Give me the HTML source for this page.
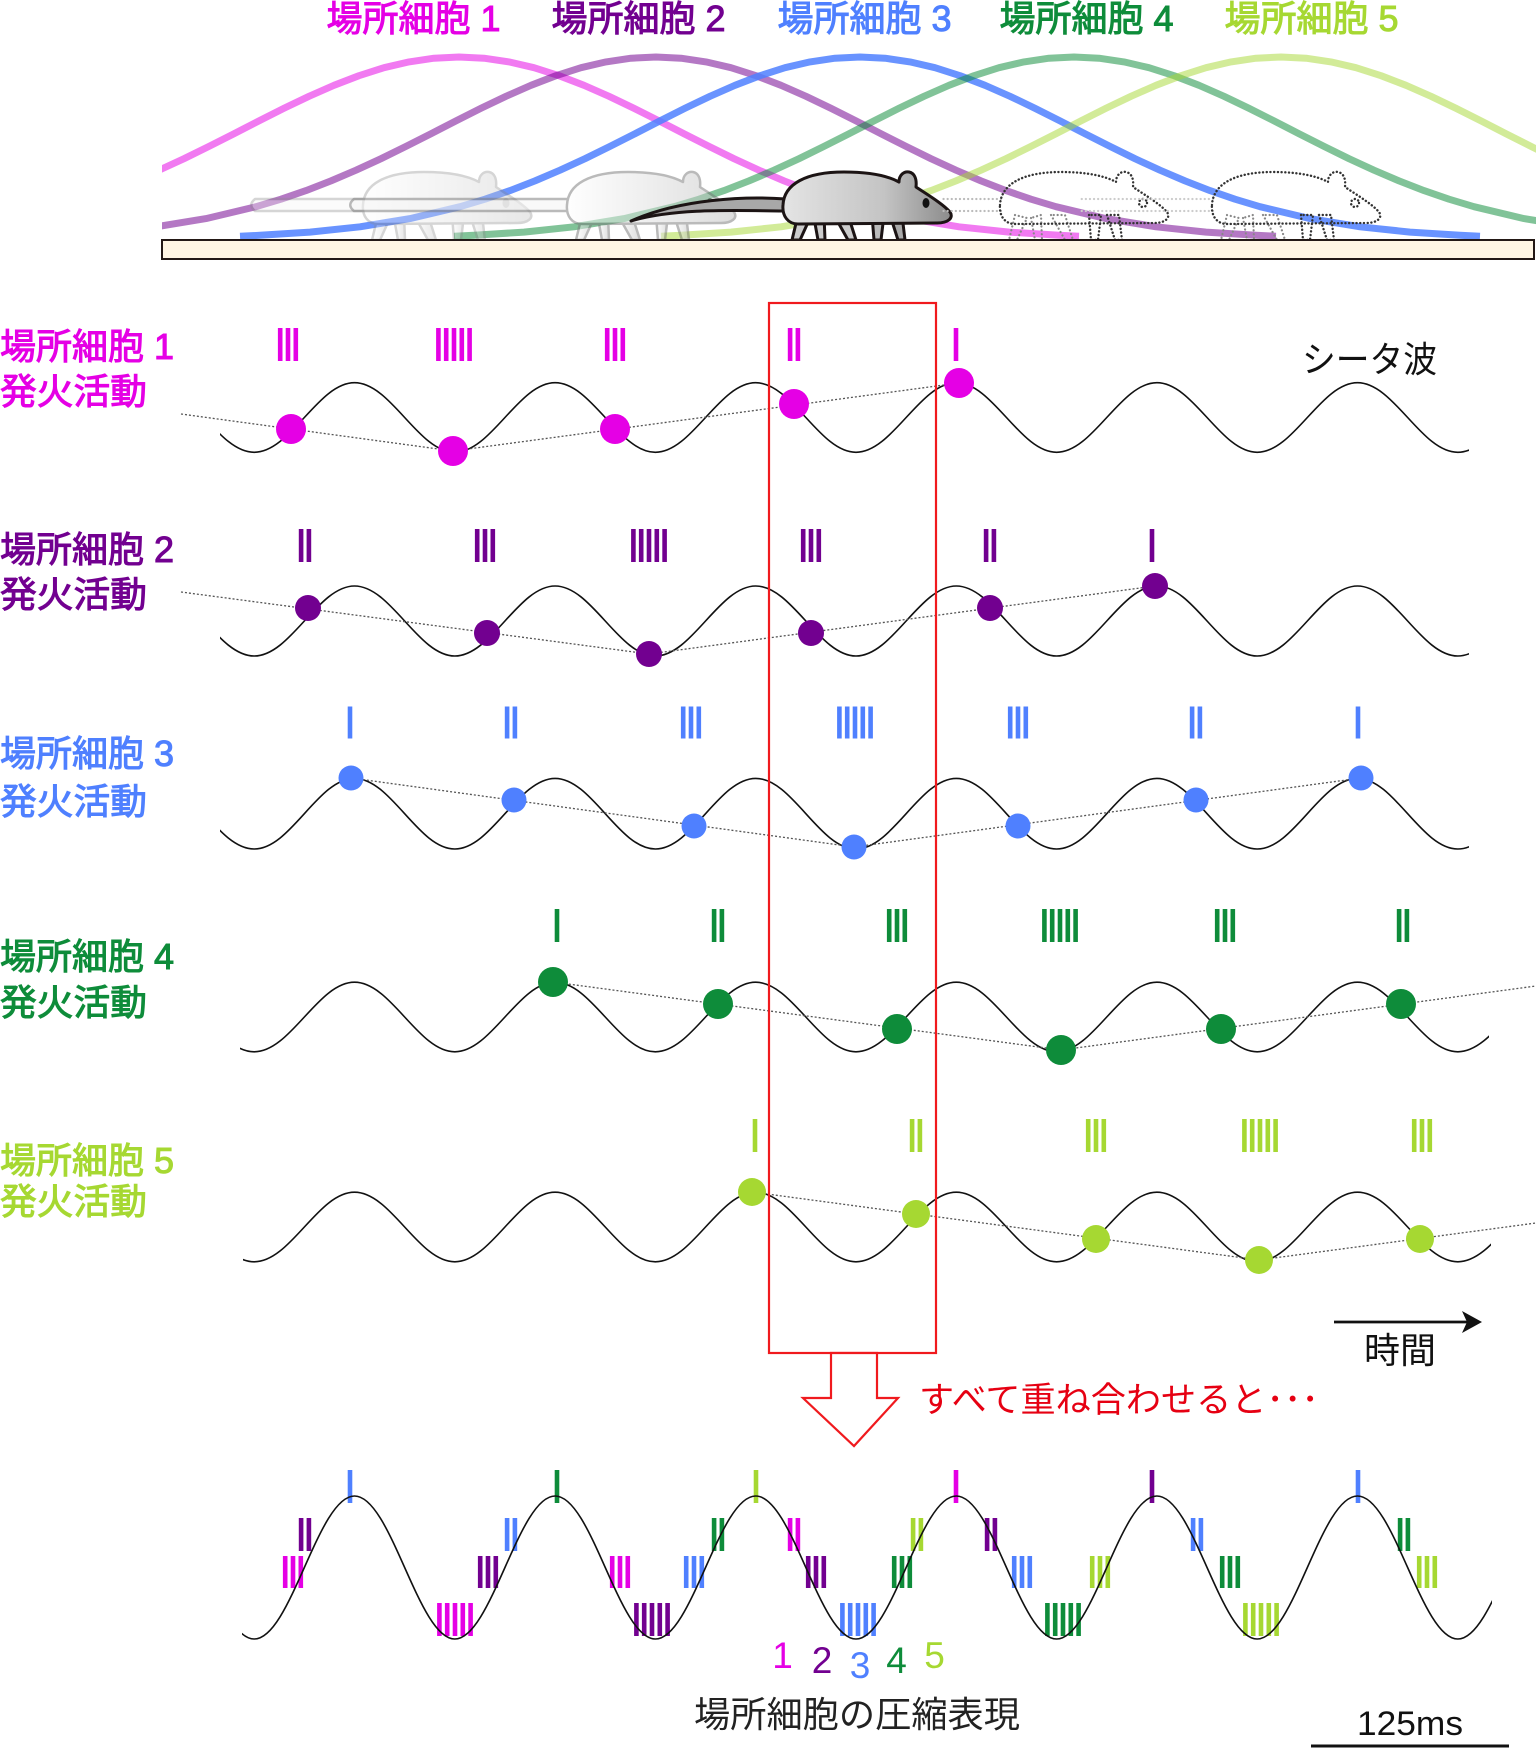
<!DOCTYPE html>
<html><head><meta charset="utf-8"><style>
html,body{margin:0;padding:0;background:#fff;}
svg{display:block;}
text{font-family:"Liberation Sans","Noto Sans CJK JP",sans-serif;}
</style></head><body>
<svg width="1536" height="1748" viewBox="0 0 1536 1748" xmlns="http://www.w3.org/2000/svg">
<defs>
<clipPath id="cg"><rect x="162" y="0" width="1374" height="245"/></clipPath>
<clipPath id="c1"><rect x="220" y="360" width="1249" height="120"/></clipPath>
<clipPath id="c2"><rect x="220" y="565" width="1249" height="110"/></clipPath>
<clipPath id="c3"><rect x="220" y="760" width="1249" height="110"/></clipPath>
<clipPath id="c4"><rect x="240" y="965" width="1249" height="110"/></clipPath>
<clipPath id="c5"><rect x="243" y="1175" width="1248" height="110"/></clipPath>
<clipPath id="c6"><rect x="242" y="1480" width="1250" height="180"/></clipPath>
<linearGradient id="mg" x1="0" x2="1" y1="0" y2="0"><stop offset="0" stop-color="#e4e4e4"/><stop offset="0.6" stop-color="#c4c4c4"/><stop offset="1" stop-color="#8c8c8c"/></linearGradient>
<linearGradient id="gg" x1="0" x2="1" y1="0" y2="0"><stop offset="0" stop-color="#ffffff"/><stop offset="1" stop-color="#bdbdbd"/></linearGradient>
</defs>

<!-- top labels -->
<g font-size="36" stroke-width="1">
<text x="326.5" y="31" textLength="174" lengthAdjust="spacingAndGlyphs" fill="#e500e5" stroke="#e500e5">場所細胞 1</text>
<text x="551.5" y="31" textLength="174" lengthAdjust="spacingAndGlyphs" fill="#720090" stroke="#720090">場所細胞 2</text>
<text x="777.5" y="31" textLength="174" lengthAdjust="spacingAndGlyphs" fill="#4f80ff" stroke="#4f80ff">場所細胞 3</text>
<text x="999.5" y="31" textLength="174" lengthAdjust="spacingAndGlyphs" fill="#0e8c3a" stroke="#0e8c3a">場所細胞 4</text>
<text x="1224.5" y="31" textLength="174" lengthAdjust="spacingAndGlyphs" fill="#a6d832" stroke="#a6d832">場所細胞 5</text>
</g>

<!-- place field curves -->
<g clip-path="url(#cg)" fill="none" stroke-width="7" stroke-linejoin="round">
<path transform="translate(459 0)" stroke="#e500e5" stroke-opacity="0.52" d="M-620,236.2 L-600,235.3 L-550,232.1 L-500,226.8 L-450,218.6 L-400,206.7 L-375,199.2 L-350,190.6 L-325,180.9 L-300,170.2 L-275,158.7 L-250,146.4 L-225,133.7 L-200,120.9 L-175,108.3 L-150,96.3 L-125,85.3 L-100,75.7 L-75,67.7 L-50,61.9 L-25,58.2 L0,57 L25,58.2 L50,61.9 L75,67.7 L100,75.7 L125,85.3 L150,96.3 L175,108.3 L200,120.9 L225,133.7 L250,146.4 L275,158.7 L300,170.2 L325,180.9 L350,190.6 L375,199.2 L400,206.7 L450,218.6 L500,226.8 L550,232.1 L600,235.3 L620,236.2"/>
<path transform="translate(656 0)" stroke="#720090" stroke-opacity="0.53" d="M-620,236.2 L-600,235.3 L-550,232.1 L-500,226.8 L-450,218.6 L-400,206.7 L-375,199.2 L-350,190.6 L-325,180.9 L-300,170.2 L-275,158.7 L-250,146.4 L-225,133.7 L-200,120.9 L-175,108.3 L-150,96.3 L-125,85.3 L-100,75.7 L-75,67.7 L-50,61.9 L-25,58.2 L0,57 L25,58.2 L50,61.9 L75,67.7 L100,75.7 L125,85.3 L150,96.3 L175,108.3 L200,120.9 L225,133.7 L250,146.4 L275,158.7 L300,170.2 L325,180.9 L350,190.6 L375,199.2 L400,206.7 L450,218.6 L500,226.8 L550,232.1 L600,235.3 L620,236.2"/>
<path transform="translate(860 0)" stroke="#4f80ff" stroke-opacity="0.85" d="M-620,236.2 L-600,235.3 L-550,232.1 L-500,226.8 L-450,218.6 L-400,206.7 L-375,199.2 L-350,190.6 L-325,180.9 L-300,170.2 L-275,158.7 L-250,146.4 L-225,133.7 L-200,120.9 L-175,108.3 L-150,96.3 L-125,85.3 L-100,75.7 L-75,67.7 L-50,61.9 L-25,58.2 L0,57 L25,58.2 L50,61.9 L75,67.7 L100,75.7 L125,85.3 L150,96.3 L175,108.3 L200,120.9 L225,133.7 L250,146.4 L275,158.7 L300,170.2 L325,180.9 L350,190.6 L375,199.2 L400,206.7 L450,218.6 L500,226.8 L550,232.1 L600,235.3 L620,236.2"/>
<path transform="translate(1074 0)" stroke="#0e8c3a" stroke-opacity="0.52" d="M-620,236.2 L-600,235.3 L-550,232.1 L-500,226.8 L-450,218.6 L-400,206.7 L-375,199.2 L-350,190.6 L-325,180.9 L-300,170.2 L-275,158.7 L-250,146.4 L-225,133.7 L-200,120.9 L-175,108.3 L-150,96.3 L-125,85.3 L-100,75.7 L-75,67.7 L-50,61.9 L-25,58.2 L0,57 L25,58.2 L50,61.9 L75,67.7 L100,75.7 L125,85.3 L150,96.3 L175,108.3 L200,120.9 L225,133.7 L250,146.4 L275,158.7 L300,170.2 L325,180.9 L350,190.6 L375,199.2 L400,206.7 L450,218.6 L500,226.8 L550,232.1 L600,235.3 L620,236.2"/>
<path transform="translate(1281 0)" stroke="#a6d832" stroke-opacity="0.5" d="M-620,236.2 L-600,235.3 L-550,232.1 L-500,226.8 L-450,218.6 L-400,206.7 L-375,199.2 L-350,190.6 L-325,180.9 L-300,170.2 L-275,158.7 L-250,146.4 L-225,133.7 L-200,120.9 L-175,108.3 L-150,96.3 L-125,85.3 L-100,75.7 L-75,67.7 L-50,61.9 L-25,58.2 L0,57 L25,58.2 L50,61.9 L75,67.7 L100,75.7 L125,85.3 L150,96.3 L175,108.3 L200,120.9 L225,133.7 L250,146.4 L275,158.7 L300,170.2 L325,180.9 L350,190.6 L375,199.2 L400,206.7 L450,218.6 L500,226.8 L550,232.1 L600,235.3 L620,236.2"/>
</g>

<!-- ghost mice -->
<g transform="translate(490 0)" opacity="0.35" stroke="#8a8a8a" stroke-width="2.5" stroke-linejoin="round" fill="url(#gg)">
<path d="M-124,199 L-235,199 C-240,203 -240,207 -235,211 L-124,211 Z" fill="#f4f4f4"/>
<path d="M-112,215 L-118,240 L-110,240 L-100,218 Z"/><path d="M-96,218 L-92,240 L-85,240 L-86,215 Z"/>
<path d="M-76,215 L-62,240 L-54,240 L-62,215 Z"/><path d="M-38,215 L-36,240 L-29,240 L-26,215 Z"/><path d="M-20,215 L-12,240 L-5,240 L-8,215 Z"/>
<path d="M-127,205 C-126,184 -104,172 -66,172 C-40,172 -22,176 -11,182 C-11,175 -6,171 -1,172 C4,173 7,178 6,187 C18,195 33,204 40,212 C44,218 38,223 27,223 L-112,224 C-122,224 -128,216 -127,205 Z"/>
<ellipse cx="16" cy="203" rx="3.5" ry="5" fill="#777" stroke="none"/>
</g>
<g transform="translate(694 0)" opacity="0.5" stroke="#777" stroke-width="2.5" stroke-linejoin="round" fill="url(#gg)">
<path d="M-124,199 L-340,199 C-345,203 -345,207 -340,211 L-124,211 Z" fill="#f4f4f4"/>
<path d="M-112,215 L-118,240 L-110,240 L-100,218 Z"/><path d="M-96,218 L-92,240 L-85,240 L-86,215 Z"/>
<path d="M-76,215 L-62,240 L-54,240 L-62,215 Z"/><path d="M-38,215 L-36,240 L-29,240 L-26,215 Z"/><path d="M-20,215 L-12,240 L-5,240 L-8,215 Z"/>
<path d="M-127,205 C-126,184 -104,172 -66,172 C-40,172 -22,176 -11,182 C-11,175 -6,171 -1,172 C4,173 7,178 6,187 C18,195 33,204 40,212 C44,218 38,223 27,223 L-112,224 C-122,224 -128,216 -127,205 Z"/>
<ellipse cx="16" cy="203" rx="3.5" ry="5" fill="#333" stroke="none"/>
</g>
<!-- main mouse -->
<g transform="translate(910 0)" stroke="#1c1414" stroke-width="3" stroke-linejoin="round" fill="url(#mg)">
<path d="M-124,199 C-165,196 -230,199 -279,221 C-232,207 -165,211 -124,211 Z" fill="#a8a8a8"/>
<path d="M-112,215 L-118,240 L-110,240 L-100,218 Z" fill="#ccc"/><path d="M-96,218 L-92,240 L-85,240 L-86,215 Z" fill="#ccc"/>
<path d="M-76,215 L-62,240 L-54,240 L-62,215 Z" fill="#ccc"/><path d="M-38,215 L-36,240 L-29,240 L-26,215 Z" fill="#bbb"/><path d="M-20,215 L-12,240 L-5,240 L-8,215 Z" fill="#aaa"/>
<path d="M-127,205 C-126,184 -104,172 -66,172 C-40,172 -22,176 -11,182 C-11,175 -6,171 -1,172 C4,173 7,178 6,187 C18,195 33,204 40,212 C44,218 38,223 27,223 L-112,224 C-122,224 -128,216 -127,205 Z"/>
<ellipse cx="16" cy="203" rx="3.5" ry="5" fill="#111" stroke="none"/>
</g>
<!-- dotted mice -->
<g transform="translate(1127 0)" fill="none" stroke-linecap="round" stroke-linejoin="round">
<path d="M-126,199 L-185,199 M-126,211 L-185,211" stroke="#bbb" stroke-width="2.2" stroke-dasharray="0.1 4"/>
<g stroke="#888" stroke-width="2.2" stroke-dasharray="0.1 3.8">
<path d="M-112,215 L-118,240 L-110,240 L-100,218 Z"/><path d="M-96,218 L-92,240 L-85,240 L-86,215 Z"/>
<path d="M-76,215 L-62,240 L-54,240 L-62,215 Z"/></g>
<g stroke="#333" stroke-width="2.4" stroke-dasharray="0.1 3.6">
<path d="M-38,215 L-36,240 L-29,240 L-26,215 Z"/><path d="M-20,215 L-12,240 L-5,240 L-8,215 Z"/>
<path d="M-127,205 C-126,184 -104,172 -66,172 C-40,172 -22,176 -11,182 C-11,175 -6,171 -1,172 C4,173 7,178 6,187 C18,195 33,204 40,212 C44,218 38,223 27,223 L-112,224 C-122,224 -128,216 -127,205 Z"/>
<circle cx="16" cy="203" r="4"/></g>
</g>
<g transform="translate(1339 0)" fill="none" stroke-linecap="round" stroke-linejoin="round">
<path d="M-126,199 L-260,199 M-126,211 L-260,211" stroke="#ccc" stroke-width="2.2" stroke-dasharray="0.1 4"/>
<g stroke="#888" stroke-width="2.2" stroke-dasharray="0.1 3.8">
<path d="M-112,215 L-118,240 L-110,240 L-100,218 Z"/><path d="M-96,218 L-92,240 L-85,240 L-86,215 Z"/>
<path d="M-76,215 L-62,240 L-54,240 L-62,215 Z"/></g>
<g stroke="#333" stroke-width="2.4" stroke-dasharray="0.1 3.6">
<path d="M-38,215 L-36,240 L-29,240 L-26,215 Z"/><path d="M-20,215 L-12,240 L-5,240 L-8,215 Z"/>
<path d="M-127,205 C-126,184 -104,172 -66,172 C-40,172 -22,176 -11,182 C-11,175 -6,171 -1,172 C4,173 7,178 6,187 C18,195 33,204 40,212 C44,218 38,223 27,223 L-112,224 C-122,224 -128,216 -127,205 Z"/>
<circle cx="16" cy="203" r="4"/></g>
</g>

<!-- ground -->
<rect x="162" y="240" width="1372" height="19" fill="#fff5e3" stroke="#231815" stroke-width="2"/>

<!-- left labels -->
<g font-size="36" stroke-width="1">
<text x="0" y="359" textLength="174" lengthAdjust="spacingAndGlyphs" fill="#e500e5" stroke="#e500e5">場所細胞 1</text>
<text x="0" y="404" textLength="147" lengthAdjust="spacingAndGlyphs" fill="#e500e5" stroke="#e500e5">発火活動</text>
<text x="0" y="562" textLength="174" lengthAdjust="spacingAndGlyphs" fill="#720090" stroke="#720090">場所細胞 2</text>
<text x="0" y="607" textLength="147" lengthAdjust="spacingAndGlyphs" fill="#720090" stroke="#720090">発火活動</text>
<text x="0" y="766" textLength="174" lengthAdjust="spacingAndGlyphs" fill="#4f80ff" stroke="#4f80ff">場所細胞 3</text>
<text x="0" y="814" textLength="147" lengthAdjust="spacingAndGlyphs" fill="#4f80ff" stroke="#4f80ff">発火活動</text>
<text x="0" y="969" textLength="174" lengthAdjust="spacingAndGlyphs" fill="#0e8c3a" stroke="#0e8c3a">場所細胞 4</text>
<text x="0" y="1015" textLength="147" lengthAdjust="spacingAndGlyphs" fill="#0e8c3a" stroke="#0e8c3a">発火活動</text>
<text x="0" y="1173" textLength="174" lengthAdjust="spacingAndGlyphs" fill="#a6d832" stroke="#a6d832">場所細胞 5</text>
<text x="0" y="1214" textLength="147" lengthAdjust="spacingAndGlyphs" fill="#a6d832" stroke="#a6d832">発火活動</text>
</g>
<text x="1302" y="372" font-size="36" textLength="135" lengthAdjust="spacingAndGlyphs" fill="#111">シータ波</text>

<!-- spike bars rows -->
<g stroke-dasharray="4.6 3.2" fill="none">
<g stroke="#e500e5" stroke-width="33">
<line x1="277.9" y1="344.5" x2="298.1" y2="344.5"/><line x1="436.1" y1="344.5" x2="471.9" y2="344.5"/><line x1="604.9" y1="344.5" x2="625.1" y2="344.5"/><line x1="787.8" y1="344.5" x2="800.2" y2="344.5"/><line x1="953.7" y1="344.5" x2="958.3" y2="344.5"/>
</g>
<g stroke="#720090" stroke-width="33">
<line x1="298.8" y1="545.5" x2="311.2" y2="545.5"/><line x1="474.9" y1="545.5" x2="495.1" y2="545.5"/><line x1="631.1" y1="545.5" x2="666.9" y2="545.5"/><line x1="800.9" y1="545.5" x2="821.1" y2="545.5"/><line x1="983.8" y1="545.5" x2="996.2" y2="545.5"/><line x1="1149.7" y1="545.5" x2="1154.3" y2="545.5"/>
</g>
<g stroke="#4f80ff" stroke-width="32">
<line x1="347.7" y1="722.5" x2="352.3" y2="722.5"/><line x1="504.8" y1="722.5" x2="517.2" y2="722.5"/><line x1="680.9" y1="722.5" x2="701.1" y2="722.5"/><line x1="837.1" y1="722.5" x2="872.9" y2="722.5"/><line x1="1007.9" y1="722.5" x2="1028.1" y2="722.5"/><line x1="1189.8" y1="722.5" x2="1202.2" y2="722.5"/><line x1="1355.7" y1="722.5" x2="1360.3" y2="722.5"/>
</g>
<g stroke="#0e8c3a" stroke-width="33">
<line x1="554.7" y1="925.5" x2="559.3" y2="925.5"/><line x1="711.8" y1="925.5" x2="724.2" y2="925.5"/><line x1="886.9" y1="925.5" x2="907.1" y2="925.5"/><line x1="1042.1" y1="925.5" x2="1077.9" y2="925.5"/><line x1="1214.9" y1="925.5" x2="1235.1" y2="925.5"/><line x1="1396.8" y1="925.5" x2="1409.2" y2="925.5"/>
</g>
<g stroke="#a6d832" stroke-width="33">
<line x1="752.7" y1="1135.5" x2="757.3" y2="1135.5"/><line x1="909.8" y1="1135.5" x2="922.2" y2="1135.5"/><line x1="1085.9" y1="1135.5" x2="1106.1" y2="1135.5"/><line x1="1242.1" y1="1135.5" x2="1277.9" y2="1135.5"/><line x1="1411.9" y1="1135.5" x2="1432.1" y2="1135.5"/>
</g>
</g>

<!-- theta waves -->
<g fill="none" stroke="#111" stroke-width="1.6">
<path clip-path="url(#c1)" d="M153.9,382.7 c36.53,0 63.77,69.6 100.3,69.6 c36.53,0 63.77,-69.6 100.3,-69.6 c36.53,0 63.77,69.6 100.3,69.6 c36.53,0 63.77,-69.6 100.3,-69.6 c36.53,0 63.77,69.6 100.3,69.6 c36.53,0 63.77,-69.6 100.3,-69.6 c36.53,0 63.77,69.6 100.3,69.6 c36.53,0 63.77,-69.6 100.3,-69.6 c36.53,0 63.77,69.6 100.3,69.6 c36.53,0 63.77,-69.6 100.3,-69.6 c36.53,0 63.77,69.6 100.3,69.6 c36.53,0 63.77,-69.6 100.3,-69.6 c36.53,0 63.77,69.6 100.3,69.6 c36.53,0 63.77,-69.6 100.3,-69.6"/>
<path clip-path="url(#c2)" d="M153.9,586 c36.53,0 63.77,70 100.3,70 c36.53,0 63.77,-70 100.3,-70 c36.53,0 63.77,70 100.3,70 c36.53,0 63.77,-70 100.3,-70 c36.53,0 63.77,70 100.3,70 c36.53,0 63.77,-70 100.3,-70 c36.53,0 63.77,70 100.3,70 c36.53,0 63.77,-70 100.3,-70 c36.53,0 63.77,70 100.3,70 c36.53,0 63.77,-70 100.3,-70 c36.53,0 63.77,70 100.3,70 c36.53,0 63.77,-70 100.3,-70 c36.53,0 63.77,70 100.3,70 c36.53,0 63.77,-70 100.3,-70"/>
<path clip-path="url(#c3)" d="M153.9,778.4 c36.53,0 63.77,70.6 100.3,70.6 c36.53,0 63.77,-70.6 100.3,-70.6 c36.53,0 63.77,70.6 100.3,70.6 c36.53,0 63.77,-70.6 100.3,-70.6 c36.53,0 63.77,70.6 100.3,70.6 c36.53,0 63.77,-70.6 100.3,-70.6 c36.53,0 63.77,70.6 100.3,70.6 c36.53,0 63.77,-70.6 100.3,-70.6 c36.53,0 63.77,70.6 100.3,70.6 c36.53,0 63.77,-70.6 100.3,-70.6 c36.53,0 63.77,70.6 100.3,70.6 c36.53,0 63.77,-70.6 100.3,-70.6 c36.53,0 63.77,70.6 100.3,70.6 c36.53,0 63.77,-70.6 100.3,-70.6"/>
<path clip-path="url(#c4)" d="M153.9,982.2 c36.53,0 63.77,69.6 100.3,69.6 c36.53,0 63.77,-69.6 100.3,-69.6 c36.53,0 63.77,69.6 100.3,69.6 c36.53,0 63.77,-69.6 100.3,-69.6 c36.53,0 63.77,69.6 100.3,69.6 c36.53,0 63.77,-69.6 100.3,-69.6 c36.53,0 63.77,69.6 100.3,69.6 c36.53,0 63.77,-69.6 100.3,-69.6 c36.53,0 63.77,69.6 100.3,69.6 c36.53,0 63.77,-69.6 100.3,-69.6 c36.53,0 63.77,69.6 100.3,69.6 c36.53,0 63.77,-69.6 100.3,-69.6 c36.53,0 63.77,69.6 100.3,69.6 c36.53,0 63.77,-69.6 100.3,-69.6"/>
<path clip-path="url(#c5)" d="M153.9,1192.2 c36.53,0 63.77,69.6 100.3,69.6 c36.53,0 63.77,-69.6 100.3,-69.6 c36.53,0 63.77,69.6 100.3,69.6 c36.53,0 63.77,-69.6 100.3,-69.6 c36.53,0 63.77,69.6 100.3,69.6 c36.53,0 63.77,-69.6 100.3,-69.6 c36.53,0 63.77,69.6 100.3,69.6 c36.53,0 63.77,-69.6 100.3,-69.6 c36.53,0 63.77,69.6 100.3,69.6 c36.53,0 63.77,-69.6 100.3,-69.6 c36.53,0 63.77,69.6 100.3,69.6 c36.53,0 63.77,-69.6 100.3,-69.6 c36.53,0 63.77,69.6 100.3,69.6 c36.53,0 63.77,-69.6 100.3,-69.6"/>
</g>

<!-- dotted phase lines -->
<g fill="none" stroke="#555" stroke-width="1.3" stroke-dasharray="2 2">
<path d="M181,414 L453,451 L959,383"/>
<path d="M181,592 L649,654 L1155,586"/>
<path d="M351,778 L854,847 L1361,778"/>
<path d="M553,982 L1061,1050 L1536,986"/>
<path d="M752,1192 L1259,1260 L1536,1223"/>
</g>

<!-- dots -->
<g fill="#e500e5"><circle cx="291" cy="429" r="15"/><circle cx="453" cy="451" r="15"/><circle cx="615" cy="429" r="15"/><circle cx="794" cy="404" r="15"/><circle cx="959" cy="383" r="15"/></g>
<g fill="#720090"><circle cx="308" cy="608" r="13"/><circle cx="487" cy="633" r="13"/><circle cx="649" cy="654" r="13"/><circle cx="811" cy="633" r="13"/><circle cx="990" cy="608" r="13"/><circle cx="1155" cy="586" r="13"/></g>
<g fill="#4f80ff"><circle cx="351" cy="778" r="12.5"/><circle cx="514" cy="800" r="12.5"/><circle cx="694" cy="826" r="12.5"/><circle cx="854" cy="847" r="12.5"/><circle cx="1018" cy="826" r="12.5"/><circle cx="1196" cy="800" r="12.5"/><circle cx="1361" cy="778" r="12.5"/></g>
<g fill="#0e8c3a"><circle cx="553" cy="982" r="15"/><circle cx="718" cy="1004" r="15"/><circle cx="897" cy="1029" r="15"/><circle cx="1061" cy="1050" r="15"/><circle cx="1221" cy="1029" r="15"/><circle cx="1401" cy="1004" r="15"/></g>
<g fill="#a6d832"><circle cx="752" cy="1192" r="14"/><circle cx="916" cy="1214" r="14"/><circle cx="1096" cy="1239" r="14"/><circle cx="1259" cy="1260" r="14"/><circle cx="1420" cy="1239" r="14"/></g>

<!-- time arrow -->
<line x1="1334" y1="1322" x2="1468" y2="1322" stroke="#111" stroke-width="2.7"/>
<polygon points="1462,1311 1482,1322 1462,1333 1467,1322" fill="#111"/>
<text x="1364" y="1363" font-size="36" textLength="72" lengthAdjust="spacingAndGlyphs" fill="#111">時間</text>

<!-- red box and arrow -->
<rect x="769" y="303" width="167" height="1050" fill="none" stroke="#f01a1e" stroke-width="2.2"/>
<polygon points="831,1353 831,1398 803,1398 854,1446 898,1398 877,1398 877,1353" fill="#fff" stroke="#f01a1e" stroke-width="2.2" stroke-linejoin="miter"/>
<text x="919" y="1412" font-size="35" textLength="400" lengthAdjust="spacingAndGlyphs" fill="#e60012">すべて重ね合わせると･･･</text>

<!-- bottom compressed spikes -->
<g stroke-dasharray="4.6 3.2" fill="none" stroke-width="33">
<line x1="347.7" y1="1486.5" x2="352.3" y2="1486.5" stroke="#4f80ff"/>
<line x1="554.7" y1="1486.5" x2="559.3" y2="1486.5" stroke="#0e8c3a"/>
<line x1="753.7" y1="1486.5" x2="758.3" y2="1486.5" stroke="#a6d832"/>
<line x1="953.7" y1="1486.5" x2="958.3" y2="1486.5" stroke="#e500e5"/>
<line x1="1149.7" y1="1486.5" x2="1154.3" y2="1486.5" stroke="#720090"/>
<line x1="1355.7" y1="1486.5" x2="1360.3" y2="1486.5" stroke="#4f80ff"/>

<line x1="298.8" y1="1534.5" x2="311.2" y2="1534.5" stroke="#720090"/>
<line x1="504.8" y1="1534.5" x2="517.2" y2="1534.5" stroke="#4f80ff"/>
<line x1="711.8" y1="1534.5" x2="724.2" y2="1534.5" stroke="#0e8c3a"/>
<line x1="787.8" y1="1534.5" x2="800.2" y2="1534.5" stroke="#e500e5"/>
<line x1="910.8" y1="1534.5" x2="923.2" y2="1534.5" stroke="#a6d832"/>
<line x1="984.8" y1="1534.5" x2="997.2" y2="1534.5" stroke="#720090"/>
<line x1="1190.8" y1="1534.5" x2="1203.2" y2="1534.5" stroke="#4f80ff"/>
<line x1="1397.8" y1="1534.5" x2="1410.2" y2="1534.5" stroke="#0e8c3a"/>

<g stroke-width="32">
<line x1="282.9" y1="1572" x2="303.1" y2="1572" stroke="#e500e5"/>
<line x1="477.9" y1="1572" x2="498.1" y2="1572" stroke="#720090"/>
<line x1="609.9" y1="1572" x2="630.1" y2="1572" stroke="#e500e5"/>
<line x1="683.9" y1="1572" x2="704.1" y2="1572" stroke="#4f80ff"/>
<line x1="805.9" y1="1572" x2="826.1" y2="1572" stroke="#720090"/>
<line x1="891.9" y1="1572" x2="912.1" y2="1572" stroke="#0e8c3a"/>
<line x1="1011.9" y1="1572" x2="1032.1" y2="1572" stroke="#4f80ff"/>
<line x1="1089.9" y1="1572" x2="1110.1" y2="1572" stroke="#a6d832"/>
<line x1="1219.9" y1="1572" x2="1240.1" y2="1572" stroke="#0e8c3a"/>
<line x1="1416.9" y1="1572" x2="1437.1" y2="1572" stroke="#a6d832"/>
</g>

<line x1="437.1" y1="1619.5" x2="472.9" y2="1619.5" stroke="#e500e5"/>
<line x1="634.1" y1="1619.5" x2="669.9" y2="1619.5" stroke="#720090"/>
<line x1="840.1" y1="1619.5" x2="875.9" y2="1619.5" stroke="#4f80ff"/>
<line x1="1045.1" y1="1619.5" x2="1080.9" y2="1619.5" stroke="#0e8c3a"/>
<line x1="1243.1" y1="1619.5" x2="1278.9" y2="1619.5" stroke="#a6d832"/>
</g>

<!-- bottom wave -->
<path clip-path="url(#c6)" fill="none" stroke="#111" stroke-width="1.6" d="M153.9,1496 c36.53,0 63.77,143 100.3,143 c36.53,0 63.77,-143 100.3,-143 c36.53,0 63.77,143 100.3,143 c36.53,0 63.77,-143 100.3,-143 c36.53,0 63.77,143 100.3,143 c36.53,0 63.77,-143 100.3,-143 c36.53,0 63.77,143 100.3,143 c36.53,0 63.77,-143 100.3,-143 c36.53,0 63.77,143 100.3,143 c36.53,0 63.77,-143 100.3,-143 c36.53,0 63.77,143 100.3,143 c36.53,0 63.77,-143 100.3,-143 c36.53,0 63.77,143 100.3,143 c36.53,0 63.77,-143 100.3,-143"/>

<!-- digits -->
<g font-size="37" text-anchor="middle">
<text x="782.5" y="1668" fill="#e500e5">1</text>
<text x="822" y="1673" fill="#720090">2</text>
<text x="860" y="1678" fill="#4f80ff">3</text>
<text x="896.5" y="1673" fill="#0e8c3a">4</text>
<text x="934.5" y="1668" fill="#a6d832">5</text>
</g>
<text x="694" y="1727" font-size="36" textLength="326" lengthAdjust="spacingAndGlyphs" fill="#222">場所細胞の圧縮表現</text>
<text x="1357" y="1735" font-size="34" textLength="106" lengthAdjust="spacingAndGlyphs" fill="#111">125ms</text>
<rect x="1311" y="1744.5" width="198" height="3" fill="#111"/>
</svg>
</body></html>
